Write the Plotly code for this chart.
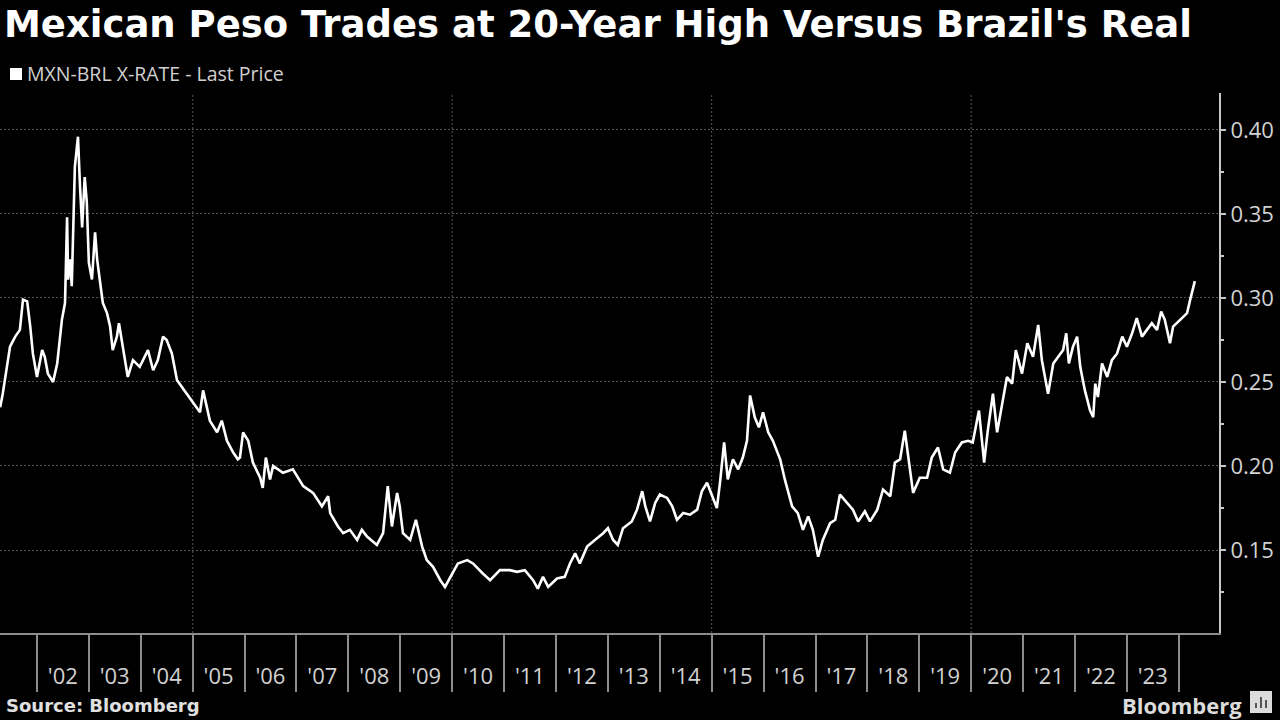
import pandas as pd
import plotly.graph_objects as go

# MXN-BRL cross rate (decimal years)
years = [
    2001.29, 2001.34, 2001.42, 2001.48, 2001.58, 2001.67, 2001.73, 2001.81, 2001.87, 2001.92,
    2002.00, 2002.10, 2002.15, 2002.21, 2002.31, 2002.39, 2002.48, 2002.54, 2002.58, 2002.60,
    2002.64, 2002.67, 2002.73, 2002.79, 2002.83, 2002.87, 2002.92, 2002.96, 2003.00, 2003.06,
    2003.12, 2003.16, 2003.21, 2003.27, 2003.35, 2003.41, 2003.46, 2003.54, 2003.58, 2003.66,
    2003.75, 2003.85, 2003.98, 2004.14, 2004.24, 2004.33, 2004.43, 2004.50, 2004.60, 2004.70,
    2004.89, 2005.08, 2005.14, 2005.20, 2005.33, 2005.47, 2005.56, 2005.66, 2005.78, 2005.87,
    2005.91, 2005.97, 2006.07, 2006.16, 2006.30, 2006.35, 2006.41, 2006.49, 2006.55, 2006.74,
    2006.93, 2007.13, 2007.32, 2007.49, 2007.61, 2007.65, 2007.80, 2007.90, 2008.03, 2008.17,
    2008.26, 2008.36, 2008.55, 2008.67, 2008.76, 2008.84, 2008.94, 2008.99, 2009.05, 2009.19,
    2009.30, 2009.42, 2009.51, 2009.63, 2009.77, 2009.86, 2009.96, 2010.11, 2010.29, 2010.40,
    2010.59, 2010.73, 2010.92, 2011.11, 2011.25, 2011.40, 2011.56, 2011.65, 2011.75, 2011.85,
    2012.02, 2012.17, 2012.27, 2012.37, 2012.46, 2012.60, 2012.75, 2012.91, 2013.00, 2013.10,
    2013.19, 2013.29, 2013.46, 2013.56, 2013.66, 2013.72, 2013.81, 2013.91, 2014.00, 2014.14,
    2014.24, 2014.33, 2014.45, 2014.58, 2014.72, 2014.81, 2014.91, 2015.01, 2015.10, 2015.16,
    2015.24, 2015.31, 2015.41, 2015.51, 2015.60, 2015.68, 2015.74, 2015.83, 2015.91, 2015.99,
    2016.09, 2016.18, 2016.32, 2016.41, 2016.55, 2016.66, 2016.76, 2016.86, 2016.95, 2017.05,
    2017.14, 2017.28, 2017.38, 2017.47, 2017.61, 2017.72, 2017.82, 2017.95, 2018.05, 2018.19,
    2018.30, 2018.44, 2018.53, 2018.63, 2018.72, 2018.78, 2018.88, 2019.01, 2019.15, 2019.24,
    2019.36, 2019.46, 2019.59, 2019.69, 2019.82, 2019.94, 2020.03, 2020.15, 2020.25, 2020.32,
    2020.42, 2020.50, 2020.59, 2020.69, 2020.79, 2020.86, 2020.98, 2021.08, 2021.19, 2021.29,
    2021.36, 2021.42, 2021.48, 2021.58, 2021.67, 2021.77, 2021.83, 2021.88, 2021.96, 2022.04,
    2022.10, 2022.19, 2022.29, 2022.35, 2022.39, 2022.44, 2022.52, 2022.62, 2022.71, 2022.81,
    2022.91, 2023.00, 2023.10, 2023.19, 2023.29, 2023.39, 2023.48, 2023.58, 2023.66, 2023.73,
    2023.83, 2023.89, 2024.02, 2024.16, 2024.22, 2024.31,
]
rate = [
    0.235, 0.243, 0.259, 0.271, 0.277, 0.281, 0.299, 0.298, 0.283, 0.267,
    0.253, 0.269, 0.265, 0.255, 0.250, 0.261, 0.287, 0.297, 0.348, 0.311,
    0.323, 0.307, 0.378, 0.396, 0.366, 0.342, 0.372, 0.357, 0.321, 0.311,
    0.339, 0.323, 0.311, 0.297, 0.291, 0.283, 0.269, 0.277, 0.285, 0.271,
    0.253, 0.263, 0.259, 0.269, 0.257, 0.263, 0.277, 0.275, 0.267, 0.251,
    0.243, 0.235, 0.232, 0.245, 0.227, 0.220, 0.227, 0.215, 0.208, 0.204,
    0.205, 0.220, 0.215, 0.202, 0.193, 0.187, 0.205, 0.192, 0.200, 0.196,
    0.198, 0.188, 0.184, 0.176, 0.182, 0.172, 0.164, 0.160, 0.162, 0.156,
    0.162, 0.158, 0.153, 0.160, 0.188, 0.164, 0.184, 0.176, 0.160, 0.156,
    0.168, 0.152, 0.144, 0.140, 0.132, 0.128, 0.134, 0.142, 0.144, 0.142,
    0.136, 0.132, 0.138, 0.138, 0.137, 0.138, 0.132, 0.127, 0.134, 0.128,
    0.133, 0.134, 0.142, 0.148, 0.142, 0.152, 0.156, 0.160, 0.163, 0.156,
    0.153, 0.163, 0.167, 0.174, 0.185, 0.176, 0.167, 0.178, 0.183, 0.181,
    0.176, 0.168, 0.172, 0.171, 0.174, 0.185, 0.190, 0.182, 0.175, 0.190,
    0.214, 0.192, 0.204, 0.198, 0.205, 0.215, 0.242, 0.229, 0.223, 0.232,
    0.220, 0.215, 0.204, 0.192, 0.176, 0.172, 0.162, 0.170, 0.162, 0.146,
    0.156, 0.166, 0.168, 0.183, 0.178, 0.174, 0.167, 0.173, 0.167, 0.174,
    0.186, 0.182, 0.202, 0.204, 0.221, 0.208, 0.184, 0.193, 0.193, 0.205,
    0.211, 0.198, 0.196, 0.208, 0.214, 0.215, 0.214, 0.233, 0.202, 0.221,
    0.243, 0.220, 0.235, 0.253, 0.249, 0.269, 0.255, 0.273, 0.265, 0.284,
    0.263, 0.253, 0.243, 0.261, 0.265, 0.269, 0.279, 0.261, 0.271, 0.277,
    0.259, 0.245, 0.233, 0.229, 0.249, 0.241, 0.261, 0.253, 0.263, 0.267,
    0.277, 0.271, 0.279, 0.288, 0.277, 0.281, 0.285, 0.281, 0.292, 0.287,
    0.273, 0.283, 0.287, 0.291, 0.299, 0.310,
]

label_years = list(range(2002, 2024))
year_labels = ["'02", "'03", "'04", "'05", "'06", "'07", "'08", "'09", "'10", "'11", "'12",
               "'13", "'14", "'15", "'16", "'17", "'18", "'19", "'20", "'21", "'22", "'23"]
grid_years = [2005, 2010, 2015, 2020]
y_ticks = [0.15, 0.20, 0.25, 0.30, 0.35, 0.40]

# plot area in pixels: x 0..1219, y 93..633
PW, PB, PH = 1219, 633, 540


def to_date(y):
    yr = int(y)
    return pd.Timestamp(year=yr, month=1, day=1) + pd.Timedelta(days=(y - yr) * 365.25)


def px(x):
    return x / PW


def py(y):
    return (PB - y) / PH


dates = [to_date(y) for y in years]

fig = go.Figure()
fig.add_trace(go.Scatter(x=dates, y=rate, mode='lines',
                         line=dict(color='white', width=2.6), showlegend=False,
                         name='MXN-BRL X-RATE - Last Price'))

tick_font = dict(family='Open Sans', size=22, color='#d2d2d2')

fig.update_layout(
    width=1280, height=720,
    paper_bgcolor='black', plot_bgcolor='black',
    margin=dict(l=0, r=61, t=93, b=87, autoexpand=False),
    xaxis=dict(
        type='date',
        range=[to_date(2001.287), to_date(2024.775)],
        tickmode='array',
        tickvals=[pd.Timestamp(year=y, month=7, day=2) for y in label_years],
        ticktext=year_labels,
        ticks='', showgrid=False, zeroline=False,
        showline=True, linecolor='#8c8c8c', linewidth=2,
        tickfont=tick_font, ticklabelstandoff=23,
        minor=dict(tickmode='array',
                   tickvals=[pd.Timestamp(year=y, month=1, day=1) for y in label_years + [2024]],
                   ticks='outside', ticklen=57, tickwidth=2, tickcolor='#8c8c8c',
                   showgrid=False),
    ),
    yaxis=dict(
        side='right',
        range=[0.1006, 0.422],
        tickmode='array', tickvals=y_ticks, tickformat='.2f',
        ticks='outside', ticklen=5, tickwidth=2, tickcolor='#c8c8c8',
        showline=True, linecolor='#c8c8c8', linewidth=2,
        showgrid=True, gridcolor='#555555', gridwidth=1, griddash='2px,2px',
        zeroline=False, tickfont=tick_font,
        minor=dict(tickmode='array', tickvals=[0.125, 0.175, 0.225, 0.275, 0.325, 0.375],
                   ticks='outside', ticklen=3, tickwidth=2, tickcolor='#c8c8c8', showgrid=False),
    ),
)

# dotted vertical grid every five years
for gy in grid_years:
    fig.add_shape(type='line', xref='x', yref='paper',
                  x0=pd.Timestamp(year=gy, month=1, day=1), x1=pd.Timestamp(year=gy, month=1, day=1),
                  y0=0, y1=1, line=dict(color='#555555', width=1, dash='2px,2px'), layer='below')

fig.add_annotation(text="Mexican Peso Trades at 20-Year High Versus Brazil's Real",
                   xref='paper', yref='paper', x=px(2), y=py(25),
                   xanchor='left', yanchor='middle', showarrow=False,
                   font=dict(family='DejaVu Sans', size=37, color='white', weight='bold'))

# legend key: white square + label
fig.add_shape(type='rect', xref='paper', yref='paper',
              x0=px(10), x1=px(22), y0=py(80), y1=py(68),
              fillcolor='white', line=dict(width=0))
fig.add_annotation(text="MXN-BRL X-RATE - Last Price",
                   xref='paper', yref='paper', x=px(25), y=py(74),
                   xanchor='left', yanchor='middle', showarrow=False,
                   font=dict(family='Open Sans', size=19.5, color='#d0d0d0'))

fig.add_annotation(text='Source: Bloomberg',
                   xref='paper', yref='paper', x=px(4), y=py(705),
                   xanchor='left', yanchor='middle', showarrow=False,
                   font=dict(family='DejaVu Sans', size=18, color='#e0e0e0', weight='bold'))
fig.add_annotation(text='Bloomberg',
                   xref='paper', yref='paper', x=px(1244), y=py(705),
                   xanchor='right', yanchor='middle', showarrow=False,
                   font=dict(family='Open Sans', size=22, color='#dcdcdc', weight='bold'))

# small Bloomberg badge
fig.add_shape(type='rect', xref='paper', yref='paper',
              x0=px(1250), x1=px(1272), y0=py(713), y1=py(691),
              fillcolor='#dcdcdc', line=dict(width=0))
for bx, top in [(1255, 703), (1260, 697), (1265, 700)]:
    fig.add_shape(type='rect', xref='paper', yref='paper',
                  x0=px(bx), x1=px(bx + 2), y0=py(708), y1=py(top),
                  fillcolor='#555555', line=dict(width=0))

fig.write_html("out.html", config={'displayModeBar': False},
               post_script="document.body.style.margin='0';")
